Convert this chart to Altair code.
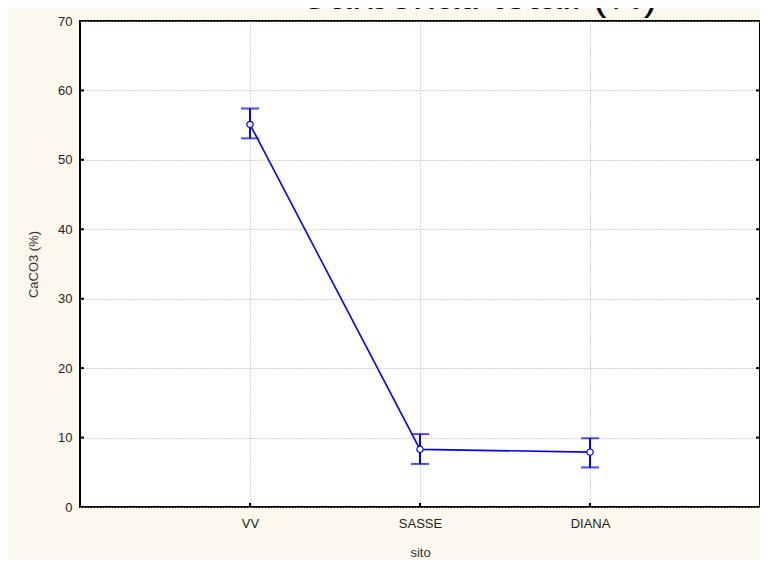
import altair as alt
import pandas as pd

# ---- data ----
sito = ["VV", "SASSE", "DIANA"]
media = [55.1, 8.3, 7.9]
inferiore = [53.1, 6.2, 5.7]
superiore = [57.4, 10.5, 9.9]
y_ticks = [0, 10, 20, 30, 40, 50, 60, 70]
titolo = ["Carbonati totali (%)"]

df = pd.DataFrame({"sito": sito, "media": media, "inf": inferiore, "sup": superiore})
tick_df = pd.DataFrame({"v": y_ticks[1:-1]})
title_df = pd.DataFrame({"t": titolo})

W, H = 680, 486
BLUE = "#0000ff"
FONT = "Liberation Sans"

xscale = alt.Scale(type="point", padding=1)
yscale = alt.Scale(domain=[0, 70], nice=False, zero=True)
xaxis = alt.Axis(title="sito", labelAngle=0, labelPadding=10, titlePadding=16, grid=True)
yaxis = alt.Axis(title="CaCO3 (%)", values=y_ticks, labelPadding=8, titlePadding=17, grid=True)

X = alt.X("sito:N", sort=sito, scale=xscale, axis=xaxis)

def Y(field):
    return alt.Y(field, type="quantitative", scale=yscale, axis=yaxis)

base = alt.Chart(df)

line = base.mark_line(color=BLUE, strokeWidth=1.6).encode(x=X, y=Y("media"))
bars = base.mark_rule(color=BLUE, strokeWidth=2).encode(x=X, y=Y("inf"), y2="sup")
cap_hi = base.mark_tick(color=BLUE, thickness=2, size=18, orient="horizontal").encode(x=X, y=Y("sup"))
cap_lo = base.mark_tick(color=BLUE, thickness=2, size=18, orient="horizontal").encode(x=X, y=Y("inf"))
pts = base.mark_point(shape="circle", filled=True, fill="white", stroke=BLUE,
                      strokeWidth=1.2, opacity=1, size=40).encode(x=X, y=Y("media"))

# inward ticks (left, right, bottom)
tick_l = alt.Chart(tick_df).mark_rule(color="black", strokeWidth=2).encode(
    y=Y("v"), x=alt.value(0), x2=alt.value(4))
tick_r = alt.Chart(tick_df).mark_rule(color="black", strokeWidth=2).encode(
    y=Y("v"), x=alt.value(W - 4), x2=alt.value(W))
tick_b = base.mark_rule(color="black", strokeWidth=2).encode(
    x=X, y=alt.value(H), y2=alt.value(H - 4))

# title, cut off by the top edge as in the reference
title = alt.Chart(title_df).mark_text(
    font=FONT, fontSize=42, color="black", align="center", baseline="alphabetic"
).encode(text="t:N", x=alt.value(398), y=alt.value(-12))

chart = alt.layer(line, bars, cap_hi, cap_lo, pts, tick_l, tick_r, tick_b, title).properties(
    width=W, height=H,
    autosize=alt.AutoSizeParams(type="none"),
    padding={"left": 72, "top": 13, "right": 0, "bottom": 53},
    background="#fdf8ed",
).configure_view(
    fill="white", stroke="black", strokeWidth=2
).configure_axis(
    labelFont=FONT, labelFontSize=13, labelColor="#222",
    titleFont=FONT, titleFontSize=13, titleFontWeight="normal", titleColor="#333",
    domain=False, ticks=False,
    gridColor="#ababab", gridDash=[1, 2], gridWidth=1,
)

chart.save("out.html", embed_options={"renderer": "svg", "actions": False})
